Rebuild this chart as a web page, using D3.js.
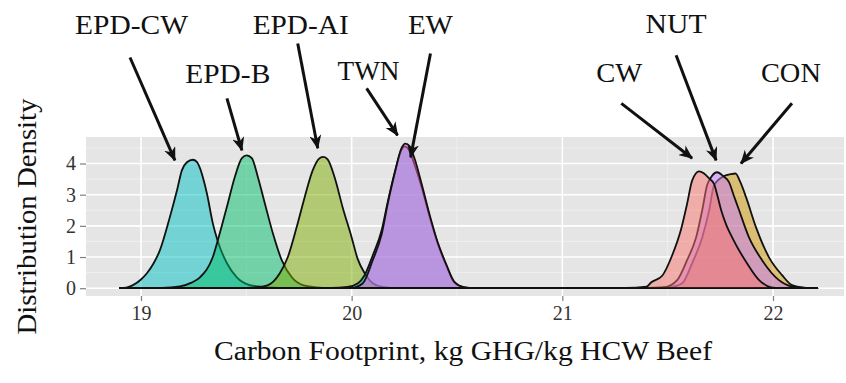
<!DOCTYPE html>
<html>
<head>
<meta charset="utf-8">
<script src="https://cdn.jsdelivr.net/npm/d3@7"></script>
<style>
  html, body { margin: 0; padding: 0; background: #ffffff; }
  svg { display: block; }
</style>
</head>
<body>
<svg id="chart" width="846" height="383"></svg>
<script>
// ---------- DATA ----------
const categories = ["EPD-CW", "EPD-B", "EPD-AI", "EW", "TWN", "CON", "NUT", "CW"];
const seriesColors = ["#00BFC4", "#00BE67", "#7CAE00", "#00A9FF", "#FF61CC", "#CD9600", "#C77CFF", "#F8766D"];

const xTicks = [19, 20, 21, 22];
const yTicks = [0, 1, 2, 3, 4];
const xMinor = [19.5, 20.5, 21.5];
const yMinor = [0.5, 1.5, 2.5, 3.5, 4.5];

// density curves: [carbon footprint, density]
const epdCW = [[18.90,0],[18.93,0.02],[18.962,0.1],[19.0,0.28],[19.028,0.48],[19.06,0.8],[19.09,1.22],[19.137,2.28],[19.171,3.14],[19.194,3.78],[19.218,4.04],[19.246,4.12],[19.265,4.05],[19.28,3.85],[19.30,3.4],[19.313,3.04],[19.341,2.08],[19.365,1.5],[19.408,0.8],[19.455,0.35],[19.517,0.10],[19.597,0.03],[19.70,0],[22.21,0]];
const epdB = [[18.90,0],[19.10,0.01],[19.185,0.06],[19.24,0.18],[19.28,0.35],[19.341,1.0],[19.374,1.76],[19.412,2.72],[19.445,3.56],[19.479,4.17],[19.502,4.26],[19.526,4.17],[19.555,3.56],[19.588,2.72],[19.626,1.76],[19.668,0.90],[19.716,0.35],[19.768,0.10],[19.834,0.03],[19.92,0],[22.21,0]];
const epdAI = [[18.90,0],[19.45,0.01],[19.55,0.03],[19.597,0.08],[19.659,0.48],[19.697,1.0],[19.739,1.96],[19.777,2.92],[19.815,3.78],[19.848,4.17],[19.866,4.21],[19.886,4.13],[19.919,3.56],[19.957,2.6],[20.0,1.63],[20.028,0.95],[20.062,0.48],[20.10,0.16],[20.147,0.04],[20.22,0],[22.21,0]];
const ew = [[18.90,0],[19.90,0.01],[19.98,0.04],[20.03,0.16],[20.06,0.4],[20.10,1.05],[20.142,1.85],[20.171,2.76],[20.204,3.7],[20.237,4.45],[20.251,4.55],[20.275,4.40],[20.299,3.95],[20.332,3.25],[20.37,2.3],[20.408,1.45],[20.45,0.72],[20.488,0.18],[20.536,0.03],[20.60,0],[22.21,0]];
const twn = [[18.90,0],[20.0,0.01],[20.052,0.15],[20.10,0.9],[20.142,1.72],[20.171,2.7],[20.204,3.68],[20.237,4.5],[20.255,4.64],[20.275,4.56],[20.299,4.15],[20.332,3.35],[20.37,2.36],[20.408,1.48],[20.45,0.75],[20.488,0.2],[20.536,0.03],[20.60,0],[22.21,0]];
const con = [[18.90,0],[21.45,0.01],[21.507,0.03],[21.569,0.16],[21.616,0.80],[21.664,1.63],[21.697,2.5],[21.72,3.3],[21.768,3.6],[21.80,3.66],[21.822,3.68],[21.845,3.4],[21.872,2.92],[21.919,1.96],[21.981,0.99],[22.043,0.42],[22.09,0.10],[22.147,0.02],[22.21,0]];
const nut = [[18.90,0],[21.40,0.01],[21.483,0.03],[21.545,0.26],[21.592,0.90],[21.635,1.63],[21.664,2.5],[21.687,3.3],[21.706,3.56],[21.735,3.72],[21.763,3.6],[21.791,3.4],[21.815,2.95],[21.839,2.5],[21.886,1.63],[21.948,0.90],[22.028,0.26],[22.085,0.06],[22.15,0.01],[22.21,0]];
const cw = [[18.90,0],[21.30,0.01],[21.40,0.05],[21.422,0.19],[21.474,0.4],[21.521,1.05],[21.564,1.9],[21.592,2.7],[21.616,3.45],[21.649,3.75],[21.673,3.68],[21.697,3.52],[21.72,3.35],[21.735,3.0],[21.754,2.5],[21.78,2.0],[21.806,1.63],[21.84,1.2],[21.872,0.85],[21.934,0.26],[21.991,0.03],[22.05,0],[22.21,0]];
const seriesData = [epdCW, epdB, epdAI, ew, twn, con, nut, cw];

// annotation labels: [label, x, y] in data units (placed above the panel)
const labelText = ["EPD-CW", "EPD-B", "EPD-AI", "EW", "TWN", "CW", "NUT", "CON"];
const labelX    = [18.955, 19.412, 19.758, 20.374, 20.080, 21.270, 21.540, 22.085];
const labelY    = [8.16, 6.57, 8.16, 8.16, 6.67, 6.60, 8.20, 6.60];
const labelW    = [113, 85, 96, 45, 62, 46, 61, 60];
// arrows: start [x,y] -> tip [x,y] in data units
const arrowFrom = [[18.948,7.40],[19.408,6.09],[19.744,7.85],[20.374,7.53],[20.071,6.41],[21.280,5.93],[21.540,7.47],[22.090,5.93]];
const arrowTo   = [[19.161,4.10],[19.479,4.42],[19.839,4.49],[20.280,4.20],[20.218,4.90],[21.616,4.17],[21.730,4.10],[21.848,4.00]];

const xTitle = "Carbon Footprint, kg GHG/kg HCW Beef";
const yTitle = "Distribution Density";

// ---------- LAYOUT ----------
const panel = { left: 86, right: 844, top: 137, bottom: 296 };
const svg = d3.select("#chart");
const serif = "'Liberation Serif', 'DejaVu Serif', serif";

const x = d3.scaleLinear().domain([18.739, 22.337]).range([panel.left, panel.right]);
const y = d3.scaleLinear().domain([-0.25, 4.85]).range([panel.bottom, panel.top]);

// panel background
svg.append("rect")
  .attr("x", panel.left).attr("y", panel.top)
  .attr("width", panel.right - panel.left).attr("height", panel.bottom - panel.top)
  .attr("fill", "#E5E5E5");

// minor grid
const grid = svg.append("g");
grid.selectAll(".mx").data(xMinor).join("line")
  .attr("x1", d => x(d)).attr("x2", d => x(d))
  .attr("y1", panel.top).attr("y2", panel.bottom)
  .attr("stroke", "#F2F2F2").attr("stroke-width", 0.8);
grid.selectAll(".my").data(yMinor).join("line")
  .attr("y1", d => y(d)).attr("y2", d => y(d))
  .attr("x1", panel.left).attr("x2", panel.right)
  .attr("stroke", "#F2F2F2").attr("stroke-width", 0.8);
// major grid
grid.selectAll(".Mx").data(xTicks).join("line")
  .attr("x1", d => x(d)).attr("x2", d => x(d))
  .attr("y1", panel.top).attr("y2", panel.bottom)
  .attr("stroke", "#FFFFFF").attr("stroke-width", 1.6);
grid.selectAll(".My").data(yTicks).join("line")
  .attr("y1", d => y(d)).attr("y2", d => y(d))
  .attr("x1", panel.left).attr("x2", panel.right)
  .attr("stroke", "#FFFFFF").attr("stroke-width", 1.6);

// densities
const area = d3.area()
  .x(d => x(d[0]))
  .y0(y(0))
  .y1(d => y(d[1]))
  .curve(d3.curveMonotoneX);

svg.append("g").selectAll("path")
  .data(seriesData)
  .join("path")
  .attr("d", d => area(d))
  .attr("fill", (d, i) => seriesColors[i])
  .attr("fill-opacity", 0.5)
  .attr("stroke", "#111")
  .attr("stroke-width", 1.8)
  .attr("stroke-linejoin", "round");

// axes
const xAxis = svg.append("g")
  .attr("transform", `translate(0,${panel.bottom})`)
  .call(d3.axisBottom(x).tickValues(xTicks).tickSize(5).tickPadding(4).tickFormat(d3.format("d")));
const yAxis = svg.append("g")
  .attr("transform", `translate(${panel.left},0)`)
  .call(d3.axisLeft(y).tickValues(yTicks).tickSize(6).tickPadding(4).tickFormat(d3.format("d")));
[xAxis, yAxis].forEach(a => {
  a.select(".domain").remove();
  a.selectAll(".tick line").attr("stroke", "#7F7F7F").attr("stroke-width", 1.2);
  a.selectAll(".tick text").attr("fill", "#333").style("font-family", serif).style("font-size", "20px");
});
xAxis.selectAll(".tick text").attr("dy", "0.75em");

// axis titles
svg.append("text")
  .attr("x", (panel.left + panel.right) / 2 - 2).attr("y", 360)
  .attr("text-anchor", "middle")
  .attr("textLength", 498).attr("lengthAdjust", "spacingAndGlyphs")
  .style("font-family", serif).style("font-size", "27px").attr("fill", "#111")
  .text(xTitle);
svg.append("text")
  .attr("transform", `translate(36,${(panel.top + panel.bottom) / 2}) rotate(-90)`)
  .attr("text-anchor", "middle")
  .attr("textLength", 236).attr("lengthAdjust", "spacingAndGlyphs")
  .style("font-family", serif).style("font-size", "28px").attr("fill", "#111")
  .text(yTitle);

// arrow marker
const defs = svg.append("defs");
defs.append("marker")
  .attr("id", "ah").attr("markerUnits", "userSpaceOnUse")
  .attr("viewBox", "0 0 14 12").attr("refX", 13).attr("refY", 6)
  .attr("markerWidth", 14).attr("markerHeight", 12).attr("orient", "auto")
  .append("path").attr("d", "M0,0 L14,6 L0,12 L4,6 Z").attr("fill", "#111");

// arrows
svg.append("g").selectAll("line")
  .data(arrowFrom)
  .join("line")
  .attr("x1", d => x(d[0])).attr("y1", d => y(d[1]))
  .attr("x2", (d, i) => x(arrowTo[i][0])).attr("y2", (d, i) => y(arrowTo[i][1]))
  .attr("stroke", "#111").attr("stroke-width", 3)
  .attr("marker-end", "url(#ah)");

// labels
svg.append("g").selectAll("text")
  .data(labelText)
  .join("text")
  .attr("x", (d, i) => x(labelX[i])).attr("y", (d, i) => y(labelY[i]))
  .attr("text-anchor", "middle")
  .attr("textLength", (d, i) => labelW[i]).attr("lengthAdjust", "spacingAndGlyphs")
  .style("font-family", serif).style("font-size", "28px").attr("fill", "#111")
  .text(d => d);
</script>
</body>
</html>
